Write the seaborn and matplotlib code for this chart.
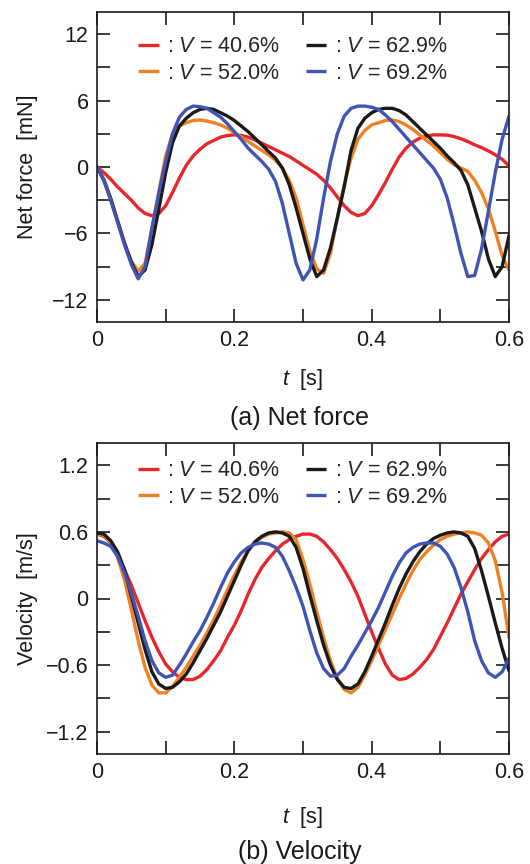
import numpy as np
import pandas as pd
import matplotlib
matplotlib.use("Agg")
import matplotlib.pyplot as plt
import seaborn as sns

# ---- data -----------------------------------------------------------------
t = np.round(np.arange(0, 0.6001, 0.01), 2)

series = ["40.6%", "52.0%", "62.9%", "69.2%"]
colors = ["#e8262b", "#f08024", "#1a1a1a", "#3f54b4"]

# net force [mN]
force_406 = [0, -0.5, -1.1, -1.8, -2.4, -3.0, -3.7, -4.2, -4.4, -4.2,
             -3.5, -2.3, -1.0, 0.15, 1.0, 1.6, 2.1, 2.4, 2.7, 2.85,
             2.9, 2.85, 2.7, 2.45, 2.15, 1.85, 1.55, 1.25, 0.95, 0.55,
             0.15, -0.25, -0.65, -1.2, -1.9, -2.7, -3.5, -4.1, -4.4, -4.2,
             -3.5, -2.5, -1.4, -0.2, 0.9, 1.7, 2.25, 2.6, 2.8, 2.9,
             2.9, 2.88, 2.75, 2.55, 2.3, 2.0, 1.75, 1.45, 1.1, 0.7,
             0.1]
force_520 = [0, -1.1, -2.8, -4.8, -6.8, -8.5, -9.4, -8.7, -5.6, -2.2,
             1.0, 3.0, 3.7, 4.0, 4.2, 4.25, 4.15, 4.0, 3.8, 3.5,
             3.1, 2.7, 2.3, 1.9, 1.5, 1.1, 0.6, -0.1, -1.2, -2.8,
             -5.2, -7.6, -9.2, -9.6, -7.8, -4.6, -1.6, 0.8, 2.5, 3.3,
             3.8, 4.0, 4.2, 4.25, 4.1, 3.8, 3.4, 2.9, 2.4, 1.9,
             1.3, 0.7, 0.2, -0.1, -0.4, -1.2, -2.3, -3.8, -5.8, -8.0,
             -9.3]
force_629 = [0, -1.2, -2.9, -4.9, -6.9, -8.6, -9.9, -9.3, -7.0, -3.8,
             -0.5, 2.2, 3.7, 4.4, 4.9, 5.2, 5.3, 5.2, 4.9, 4.6,
             4.2, 3.7, 3.2, 2.6, 2.0, 1.4, 0.8, -0.1, -1.6, -3.7,
             -6.0, -8.3, -9.9, -9.3, -7.3, -4.6, -1.8, 1.5, 3.5, 4.4,
             4.9, 5.2, 5.3, 5.3, 5.1, 4.7, 4.1, 3.5, 2.9, 2.3,
             1.7, 1.0, 0.4, -0.3, -1.6, -3.7, -5.8, -8.3, -9.9, -9.0,
             -6.2]
force_692 = [0, -1.2, -3.0, -5.0, -7.0, -8.8, -10.1, -9.0, -5.5, -2.4,
             0.5, 3.0, 4.5, 5.2, 5.5, 5.45, 5.3, 4.9, 4.5, 3.9,
             3.2, 2.5, 1.7, 1.1, 0.5, -0.2, -1.3, -3.3, -6.0, -8.7,
             -10.2, -9.3, -6.5, -2.8, 0.5, 3.0, 4.6, 5.3, 5.5, 5.5,
             5.4, 5.2, 4.7, 4.1, 3.4, 2.7, 2.0, 1.3, 0.6, -0.1,
             -1.1, -2.8, -5.2, -7.8, -9.9, -9.8, -7.4, -4.0, -0.5, 2.5,
             4.6]

# velocity [m/s]
vel_406 = [0.58, 0.56, 0.50, 0.40, 0.26, 0.12, -0.04, -0.20, -0.35, -0.48,
           -0.59, -0.66, -0.71, -0.73, -0.73, -0.70, -0.64, -0.56, -0.47, -0.35,
           -0.24, -0.11, 0.04, 0.17, 0.28, 0.36, 0.43, 0.49, 0.53, 0.56,
           0.58, 0.58, 0.56, 0.51, 0.44, 0.36, 0.26, 0.15, 0.02, -0.14,
           -0.30, -0.45, -0.59, -0.69, -0.73, -0.72, -0.68, -0.62, -0.55, -0.46,
           -0.34, -0.22, -0.09, 0.04, 0.15, 0.26, 0.36, 0.44, 0.51, 0.56,
           0.58]
vel_520 = [0.58, 0.57, 0.50, 0.37, 0.17, -0.10, -0.38, -0.62, -0.78, -0.85,
           -0.85, -0.79, -0.71, -0.62, -0.52, -0.42, -0.31, -0.19, -0.06, 0.08,
           0.21, 0.33, 0.43, 0.50, 0.55, 0.58, 0.59, 0.60, 0.59, 0.53,
           0.35, 0.13, -0.12, -0.35, -0.56, -0.72, -0.82, -0.85, -0.80, -0.69,
           -0.56, -0.42, -0.28, -0.14, 0.00, 0.13, 0.25, 0.35, 0.42, 0.48,
           0.53, 0.56, 0.58, 0.59, 0.60, 0.59, 0.57, 0.50, 0.34, 0.05,
           -0.35]
vel_629 = [0.59, 0.58, 0.52, 0.42, 0.26, 0.02, -0.22, -0.46, -0.66, -0.77,
           -0.81, -0.80, -0.75, -0.68, -0.58, -0.47, -0.36, -0.24, -0.12, 0.02,
           0.16, 0.30, 0.43, 0.51, 0.56, 0.59, 0.60, 0.59, 0.56, 0.46,
           0.27, 0.03, -0.20, -0.42, -0.60, -0.73, -0.80, -0.81, -0.77, -0.66,
           -0.52, -0.37, -0.22, -0.06, 0.09, 0.22, 0.33, 0.42, 0.49, 0.54,
           0.57, 0.59, 0.60, 0.59, 0.56, 0.45, 0.25, 0.02, -0.22, -0.45,
           -0.65]
vel_692 = [0.52, 0.50, 0.47, 0.38, 0.23, 0.05, -0.16, -0.38, -0.56, -0.67,
           -0.71, -0.69, -0.60, -0.50, -0.39, -0.29, -0.17, -0.04, 0.10, 0.23,
           0.33, 0.41, 0.46, 0.49, 0.50, 0.49, 0.46, 0.38, 0.25, 0.10,
           -0.07, -0.29, -0.49, -0.63, -0.70, -0.69, -0.63, -0.52, -0.42, -0.31,
           -0.20, -0.08, 0.06, 0.20, 0.32, 0.41, 0.46, 0.49, 0.50, 0.50,
           0.47, 0.40, 0.28, 0.10, -0.12, -0.38, -0.56, -0.67, -0.71, -0.66,
           -0.54]

force = [force_406, force_520, force_629, force_692]
velocity = [vel_406, vel_520, vel_629, vel_692]

x_ticks = [0, 0.1, 0.2, 0.3, 0.4, 0.5, 0.6]
x_ticklabels = ["0", "", "0.2", "", "0.4", "", "0.6"]
f_ticks = [-12, -9, -6, -3, 0, 3, 6, 9, 12]
f_ticklabels = ["\u221212", "", "\u22126", "", "0", "", "6", "", "12"]
v_ticks = [-1.2, -0.9, -0.6, -0.3, 0, 0.3, 0.6, 0.9, 1.2]
v_ticklabels = ["\u22121.2", "", "\u22120.6", "", "0", "", "0.6", "", "1.2"]


def long_frame(values, name):
    rows = []
    for lab, vals in zip(series, values):
        rows.append(pd.DataFrame({"t": t, name: vals, "V": lab}))
    return pd.concat(rows, ignore_index=True)


df_force = long_frame(force, "F")
df_vel = long_frame(velocity, "v")

# ---- style ----------------------------------------------------------------
sns.set_theme(style="ticks")
plt.rcParams["font.family"] = ["Liberation Sans", "DejaVu Sans"]
plt.rcParams["mathtext.fontset"] = "custom"
plt.rcParams["mathtext.rm"] = "Liberation Sans"
plt.rcParams["mathtext.it"] = "Liberation Sans:italic"
plt.rcParams["axes.unicode_minus"] = True
plt.rcParams["lines.solid_joinstyle"] = "round"
plt.rcParams["lines.solid_capstyle"] = "round"

FS = 15.5
W, H = 530, 864
fig = plt.figure(figsize=(W / 100, H / 100), dpi=100)
ax1 = fig.add_axes([97 / W, 1 - 322 / H, 412 / W, 310 / H])
ax2 = fig.add_axes([97 / W, 1 - 754 / H, 412 / W, 311 / H])

palette = dict(zip(series, colors))


def draw(ax, df, col, ylim, yticks, yticklabels, ylabel, legend_top):
    sns.lineplot(data=df, x="t", y=col, hue="V", hue_order=series,
                 palette=palette, linewidth=2.4, errorbar=None,
                 legend=False, ax=ax)
    ax.set_xlim(0, 0.6)
    ax.set_ylim(*ylim)
    ax.set_xticks(x_ticks)
    ax.set_xticklabels(x_ticklabels)
    ax.set_yticks(yticks)
    ax.set_yticklabels(yticklabels)
    ax.tick_params(direction="in", length=9.5, width=1.2, top=True,
                   right=True, labelsize=FS, pad=6, colors="#1a1a1a")
    for s in ax.spines.values():
        s.set_linewidth(1.2)
        s.set_color("#1a1a1a")
    ax.set_xlabel(r"$t$  [s]", fontsize=FS, color="#1a1a1a")
    ax.set_ylabel(ylabel, fontsize=FS, color="#1a1a1a")
    ax.yaxis.set_label_coords(-70 / 412, 0.5)
    ax.yaxis.label.set_va("center")
    handles = ax.get_lines()[:4]
    labels = [r": $V$ = " + s for s in series]
    leg = ax.legend(handles, labels, ncol=2, frameon=False, fontsize=FS,
                    loc="upper left", bbox_to_anchor=(0.1, legend_top),
                    borderaxespad=0, borderpad=0, handlelength=0.95,
                    handletextpad=0.4, columnspacing=1.2, labelspacing=0.25)
    for h in leg.get_lines():
        h.set_linewidth(2.4)
        h.set_solid_capstyle("butt")


draw(ax1, df_force, "F", (-14, 14), f_ticks, f_ticklabels,
     "Net force  [mN]", 0.921)
draw(ax2, df_vel, "v", (-1.4, 1.4), v_ticks, v_ticklabels,
     "Velocity  [m/s]", 0.944)

ax1.xaxis.set_label_coords(0.5, -(380 - 322) / 310)
ax1.xaxis.label.set_va("center")
ax2.xaxis.set_label_coords(0.5, -(818 - 754) / 311)
ax2.xaxis.label.set_va("center")

fig.text(300 / W, 1 - 418 / H, "(a) Net force", ha="center", va="center",
         fontsize=18, color="#1a1a1a")
fig.text(300 / W, 1 - 852 / H, "(b) Velocity", ha="center", va="center",
         fontsize=18, color="#1a1a1a")

fig.savefig("out.png", dpi=100, facecolor="white")
